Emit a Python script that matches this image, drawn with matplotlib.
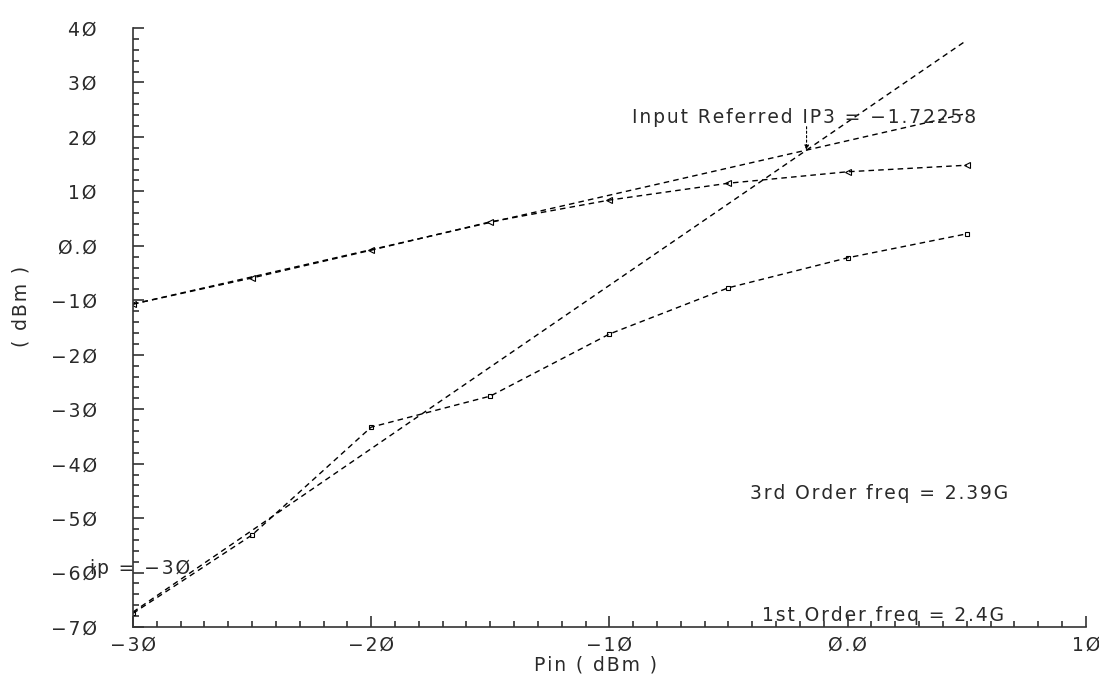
import matplotlib
matplotlib.use("Agg")
import matplotlib.pyplot as plt
from matplotlib.ticker import MultipleLocator, FixedLocator, FixedFormatter

# Swept input power (dBm)
pin = [-30, -25, -20, -15, -10, -5, 0, 5]
# Fundamental output power at 2.4 GHz (dBm)
fund_out = [-10.7, -5.9, -0.8, 4.4, 8.4, 11.5, 13.6, 14.8]
# Third-order intermod output power at 2.39 GHz (dBm)
im3_out = [-67.5, -53.1, -33.3, -27.6, -16.2, -7.7, -2.2, 2.2]
# Input referred third-order intercept point (dBm)
ip3_in = -1.72258

x_ticks = [-30, -20, -10, 0, 10]
x_tick_labels = ["\u22123\u00d8", "\u22122\u00d8", "\u22121\u00d8", "\u00d8.\u00d8", "1\u00d8"]
y_ticks = [-70, -60, -50, -40, -30, -20, -10, 0, 10, 20, 30, 40]
y_tick_labels = ["\u22127\u00d8", "\u22126\u00d8", "\u22125\u00d8", "\u22124\u00d8", "\u22123\u00d8",
                 "\u22122\u00d8", "\u22121\u00d8", "\u00d8.\u00d8", "1\u00d8", "2\u00d8", "3\u00d8", "4\u00d8"]


def spaced(s):
    """Slightly open letter spacing, like the plotting terminal's font."""
    return "\u200a".join(s)


plt.rcParams["font.family"] = ["DejaVu Sans"]
FS = 13.5
TXT = "#2a2a2a"

fig = plt.figure(figsize=(10.99, 6.83), dpi=100)
ax = fig.add_axes([0.121, 0.082, 0.867, 0.877])

dash = dict(color="black", lw=1.0, linestyle=(0, (4, 3)))

# Extrapolated 1:1 and 3:1 lines that meet at the intercept point
x0, x1 = pin[0], pin[-1]
fund_at_ip3 = fund_out[0] + (ip3_in - x0)
ax.plot([x0, x1], [fund_out[0], fund_out[0] + (x1 - x0)], **dash)
ax.plot([x0, x1], [fund_at_ip3 + 3 * (x0 - ip3_in), fund_at_ip3 + 3 * (x1 - ip3_in)], **dash)

# Measured curves
ax.plot(pin, fund_out, marker="<", ms=4, mfc="none", mec="black", mew=0.8, **dash)
ax.plot(pin, im3_out, marker="s", ms=3.5, mfc="none", mec="black", mew=0.8, **dash)

# Intercept marker and label
ax.annotate("", xy=(ip3_in, fund_at_ip3), xytext=(ip3_in, fund_at_ip3 + 4.3),
            arrowprops=dict(arrowstyle="-|>", lw=0.8, ls=(0, (2, 2)), color="black",
                            mutation_scale=7, shrinkA=0, shrinkB=0))
ax.text(-9.06, 23.6, spaced("Input Referred IP3 = \u22121.72258"), fontsize=FS, color=TXT,
        ha="left", va="center")
ax.text(-4.1, -45.4, spaced("3rd Order freq = 2.39G"), fontsize=FS, color=TXT,
        ha="left", va="center")
ax.text(-3.6, -67.8, spaced("1st Order freq = 2.4G"), fontsize=FS, color=TXT,
        ha="left", va="center")
ax.text(-27.6, -59.2, spaced("ip = \u22123\u00d8"), fontsize=FS, color=TXT, ha="right",
        va="center", clip_on=False)

ax.set_xlim(-30, 10)
ax.set_ylim(-70, 40)
for s in ("top", "right"):
    ax.spines[s].set_visible(False)
for s in ("left", "bottom"):
    ax.spines[s].set_linewidth(1.2)
    ax.spines[s].set_color("#333333")

ax.xaxis.set_major_locator(FixedLocator(x_ticks))
ax.xaxis.set_major_formatter(FixedFormatter([spaced(t) for t in x_tick_labels]))
ax.xaxis.set_minor_locator(MultipleLocator(1))
ax.yaxis.set_major_locator(FixedLocator(y_ticks))
ax.yaxis.set_major_formatter(FixedFormatter([spaced(t) for t in y_tick_labels]))
ax.yaxis.set_minor_locator(MultipleLocator(2))

ax.tick_params(axis="both", which="both", direction="in", color="#333333", width=1.2)
ax.tick_params(axis="both", which="major", length=8, labelsize=FS, labelcolor=TXT)
ax.tick_params(axis="both", which="minor", length=4)
ax.tick_params(axis="x", which="major", pad=6)
ax.tick_params(axis="y", which="major", pad=26)

ax.set_xlabel(spaced("Pin ( dBm )"), fontsize=FS, color=TXT)
ax.set_ylabel(spaced("( dBm )"), fontsize=FS, color=TXT)
ax.xaxis.set_label_coords(0.485, -0.047)
ax.yaxis.set_label_coords(-0.108, 0.535)

fig.savefig("out.png", dpi=100)
